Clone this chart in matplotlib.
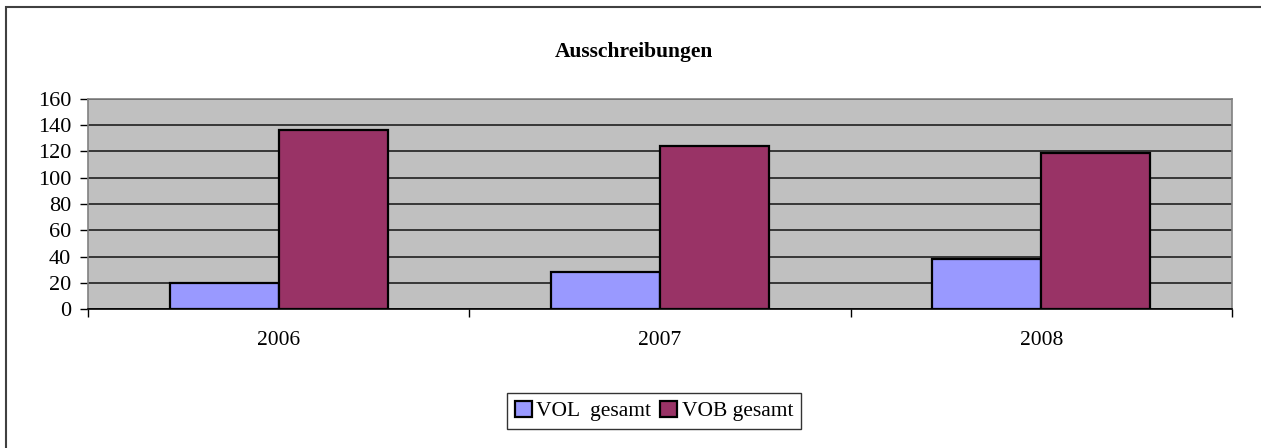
import numpy as np
import matplotlib
matplotlib.use("Agg")
import matplotlib.pyplot as plt
from matplotlib.patches import Rectangle

plt.rcParams['font.family'] = ['Liberation Serif', 'DejaVu Serif']

years = ['2006', '2007', '2008']
vol = [20, 28, 38]
vob = [136, 124, 119]
series_names = ['VOL  gesamt', 'VOB gesamt']
colors = ['#9999FF', '#993366']

fig = plt.figure(figsize=(12.61, 4.48), dpi=100)
fig.patches.append(Rectangle((6 / 1261, -0.1), 1.2, (448 - 7) / 448 + 0.1,
                             transform=fig.transFigure, fill=False,
                             edgecolor='#404040', linewidth=1.5))

ax = fig.add_axes([88 / 1261, (448 - 309) / 448, (1232 - 88) / 1261, (309 - 99) / 448])
ax.set_facecolor('#C0C0C0')

x = np.arange(len(years))
w = 1 / 3.5
ax.bar(x - w / 2, vol, w, color=colors[0], edgecolor='black', linewidth=1.6,
       label=series_names[0], zorder=3)
ax.bar(x + w / 2, vob, w, color=colors[1], edgecolor='black', linewidth=1.6,
       label=series_names[1], zorder=3)

ax.set_xlim(-0.5, 2.5)
ax.set_ylim(0, 160)
ax.set_yticks(range(0, 161, 20))
ax.yaxis.grid(True, color='#202020', linewidth=1.2, zorder=1)
ax.set_axisbelow(True)

ax.set_xticks(x)
ax.set_xticklabels(years)
ax.set_xticks(np.arange(-0.5, 2.6, 1), minor=True)
ax.tick_params(axis='x', which='major', length=0, pad=16, labelsize=15.5)
ax.tick_params(axis='x', which='minor', length=6, width=1, color='black')
ax.tick_params(axis='y', length=6, width=1, color='black', labelsize=16, pad=6)

for side in ['top', 'right', 'left']:
    ax.spines[side].set_color('#808080')
    ax.spines[side].set_linewidth(1.2)
ax.spines['bottom'].set_color('black')
ax.spines['bottom'].set_linewidth(1.2)

fig.text(634 / 1261, 1 - 52 / 448, 'Ausschreibungen', ha='center', va='center',
         fontsize=15.5, fontweight='bold')

leg = fig.legend(loc='center', bbox_to_anchor=(654 / 1261, 1 - 411 / 448),
                 ncol=2, frameon=True, fancybox=False, edgecolor='black',
                 fontsize=15.5, handlelength=0.8, handleheight=0.8,
                 handletextpad=0.2, columnspacing=0.4, borderpad=0.35)
leg.get_frame().set_linewidth(1.0)

fig.savefig('out.png', dpi=100)
